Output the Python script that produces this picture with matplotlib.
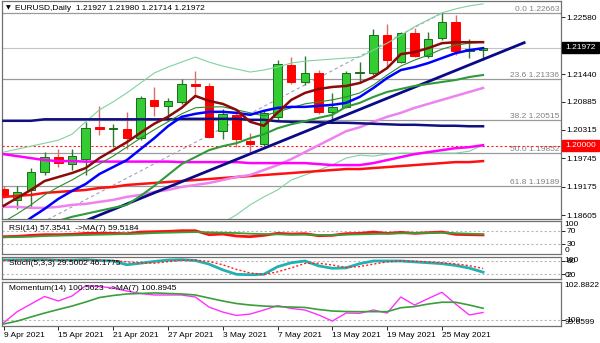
import numpy as np
import matplotlib.pyplot as plt
from matplotlib.patches import Rectangle

plt.rcParams['font.family'] = ['Liberation Sans', 'DejaVu Sans']
plt.rcParams['font.size'] = 6

W, H = 600, 343

# EURUSD daily bars, 9 Apr 2021 .. 28 May 2021
opens = [1.1913, 1.1891, 1.1911, 1.1947, 1.1977, 1.1963, 1.1973, 1.2038, 1.2033, 1.2034,
         1.2015, 1.2092, 1.2080, 1.2088, 1.2124, 1.2120, 1.2030, 1.2062, 1.2009, 1.2003,
         1.2058, 1.2162, 1.2128, 1.2146, 1.2068, 1.2078, 1.2146, 1.2146, 1.2222, 1.2168,
         1.2227, 1.2180, 1.2216, 1.2249, 1.2190, 1.21927]
highs = [1.1919, 1.1919, 1.1955, 1.1987, 1.1993, 1.1993, 1.2048, 1.2080, 1.2044, 1.2068,
         1.2100, 1.2118, 1.2096, 1.2134, 1.2150, 1.2126, 1.2074, 1.2066, 1.2025, 1.2070,
         1.2172, 1.2178, 1.2180, 1.2152, 1.2106, 1.2150, 1.2168, 1.2235, 1.2245, 1.2229,
         1.2237, 1.2229, 1.22663, 1.2263, 1.2214, 1.21980]
lows = [1.1895, 1.1873, 1.1877, 1.1941, 1.1957, 1.1951, 1.1941, 1.2021, 1.1997, 1.1993,
        1.2011, 1.2060, 1.2056, 1.2084, 1.2098, 1.2015, 1.2013, 1.1997, 1.1985, 1.1999,
        1.2052, 1.2124, 1.2122, 1.2064, 1.2054, 1.2076, 1.2126, 1.2142, 1.2158, 1.2166,
        1.2178, 1.2176, 1.2212, 1.2182, 1.2176, 1.21714]
closes = [1.1899, 1.1907, 1.1947, 1.1977, 1.1965, 1.1979, 1.2036, 1.2034, 1.2036, 1.2015,
          1.2096, 1.2080, 1.2090, 1.2124, 1.2119, 1.2017, 1.2064, 1.2013, 1.2003, 1.2066,
          1.2164, 1.2128, 1.2146, 1.2068, 1.2078, 1.2146, 1.2148, 1.2222, 1.2172, 1.2227,
          1.2180, 1.2214, 1.2249, 1.2190, 1.2194, 1.21972]

# moving averages / bands overlaid on price
ma_maroon = [1.1879, 1.1895, 1.1911, 1.1929, 1.1937, 1.1945, 1.1955, 1.1975, 1.1991, 1.2007,
             1.2026, 1.2044, 1.2058, 1.2076, 1.2100, 1.2090, 1.2084, 1.2072, 1.2048, 1.2040,
             1.2066, 1.2092, 1.2106, 1.2114, 1.2118, 1.2120, 1.2126, 1.2138, 1.2156, 1.2184,
             1.2188, 1.2196, 1.2206, 1.2208, 1.2208, 1.2208]
ma_blue = [1.1820, 1.1834, 1.1855, 1.1873, 1.1893, 1.1909, 1.1923, 1.1943, 1.1957, 1.1971,
           1.1993, 1.2015, 1.2039, 1.2058, 1.2064, 1.2068, 1.2068, 1.2066, 1.2062, 1.2070,
           1.2076, 1.2078, 1.2078, 1.2080, 1.2082, 1.2086, 1.2098, 1.2116, 1.2136, 1.2152,
           1.2158, 1.2166, 1.2176, 1.2186, 1.2192, 1.2196]
ma_thin = [1.1847, 1.1863, 1.1881, 1.1901, 1.1917, 1.1931, 1.1947, 1.1963, 1.1979, 1.1997,
           1.2015, 1.2032, 1.2048, 1.2064, 1.2076, 1.2078, 1.2078, 1.2072, 1.2066, 1.2060,
           1.2068, 1.2076, 1.2084, 1.2088, 1.2092, 1.2098, 1.2106, 1.2122, 1.2142, 1.2160,
           1.2172, 1.2182, 1.2194, 1.2202, 1.2206, 1.2208]
bb_mid = [1.1811, 1.1819, 1.1829, 1.1839, 1.1849, 1.1857, 1.1863, 1.1869, 1.1875, 1.1881,
          1.1899, 1.1919, 1.1941, 1.1963, 1.1977, 1.1991, 1.1999, 1.2005, 1.2015, 1.2023,
          1.2035, 1.2043, 1.2049, 1.2056, 1.2062, 1.2078, 1.2086, 1.2098, 1.2108, 1.2114,
          1.2120, 1.2124, 1.2128, 1.2132, 1.2138, 1.2142]
bb_up = [1.1987, 1.1993, 1.1999, 1.2005, 1.2011, 1.2023, 1.2048, 1.2072, 1.2088, 1.2106,
         1.2126, 1.2146, 1.2158, 1.2168, 1.2178, 1.2168, 1.2160, 1.2154, 1.2148, 1.2152,
         1.2158, 1.2166, 1.2170, 1.2172, 1.2174, 1.2176, 1.2178, 1.2192, 1.2206, 1.2222,
         1.2239, 1.2253, 1.2267, 1.2275, 1.2281, 1.2285]
bb_low = [1.1634, 1.1644, 1.1658, 1.1672, 1.1686, 1.1690, 1.1678, 1.1666, 1.1662, 1.1656,
          1.1672, 1.1692, 1.1724, 1.1758, 1.1776, 1.1815, 1.1845, 1.1861, 1.1881, 1.1897,
          1.1911, 1.1931, 1.1941, 1.1951, 1.1961, 1.1975, 1.1981, 1.1979, 1.1983, 1.1985,
          1.1985, 1.1985, 1.1985, 1.1985, 1.1989, 1.2001]
ma_magenta = [1.1983, 1.1979, 1.1975, 1.1971, 1.1969, 1.1969, 1.1968, 1.1968, 1.1968, 1.1968,
              1.1968, 1.1968, 1.1968, 1.1967, 1.1967, 1.1967, 1.1967, 1.1967, 1.1965, 1.1965,
              1.1965, 1.1965, 1.1965, 1.1963, 1.1961, 1.1961, 1.1961, 1.1965, 1.1971, 1.1977,
              1.1983, 1.1987, 1.1991, 1.1995, 1.1997, 1.2001]
ma_violet = [1.1877, 1.1877, 1.1875, 1.1875, 1.1877, 1.1881, 1.1883, 1.1887, 1.1891, 1.1897,
             1.1901, 1.1907, 1.1911, 1.1917, 1.1921, 1.1925, 1.1931, 1.1937, 1.1941, 1.1951,
             1.1961, 1.1973, 1.1987, 1.2001, 1.2015, 1.2029, 1.2037, 1.2048, 1.2058, 1.2066,
             1.2076, 1.2084, 1.2092, 1.2100, 1.2108, 1.2116]
ma_red = [1.1897, 1.1899, 1.1901, 1.1905, 1.1907, 1.1909, 1.1911, 1.1915, 1.1917, 1.1921,
          1.1923, 1.1925, 1.1927, 1.1929, 1.1931, 1.1933, 1.1935, 1.1937, 1.1939, 1.1941,
          1.1943, 1.1945, 1.1947, 1.1949, 1.1951, 1.1953, 1.1953, 1.1955, 1.1957, 1.1959,
          1.1961, 1.1963, 1.1965, 1.1967, 1.1967, 1.1969]
ma_navy = [1.2050, 1.2050, 1.2050, 1.2053, 1.2053, 1.2053, 1.2053, 1.2053, 1.2053, 1.2053,
           1.2053, 1.2053, 1.2053, 1.2054, 1.2054, 1.2054, 1.2054, 1.2054, 1.2052, 1.2052,
           1.2049, 1.2048, 1.2048, 1.2047, 1.2046, 1.2046, 1.2045, 1.2044, 1.2043, 1.2042,
           1.2042, 1.2041, 1.2040, 1.2040, 1.2039, 1.2039]

# oscillators
rsi = [52, 53, 56, 58, 58, 59, 62, 62, 62, 61, 66, 67, 68, 70, 70, 58, 60, 54, 52, 56,
       62, 60, 61, 55, 56, 61, 62, 66, 62, 65, 62, 64, 66, 59, 58, 57.3541]
rsi_ma = [50, 51, 52, 54, 55, 56, 57, 58, 59, 60, 61, 63, 64, 65, 66, 65, 64, 63, 61, 60,
          59, 58, 58, 57, 57, 58, 59, 60, 61, 62, 63, 63, 64, 62.5, 61, 59.5184]
stoch_k = [85, 85, 86, 86, 84, 84, 86, 82, 80, 63, 70, 78, 84, 86, 82, 66, 40, 20, 18, 20,
           54, 72, 80, 58, 47, 49, 68, 80, 80, 80, 76, 72, 68, 60, 48, 29.5002]
stoch_d = [83, 84, 85, 85, 85, 84, 84, 84, 82, 76, 72, 70, 77, 83, 84, 78, 63, 42, 26, 19,
           31, 49, 69, 70, 62, 51, 55, 66, 76, 80, 79, 76, 72, 67, 59, 46.1775]
momentum = [99.75, 100.63, 101.23, 101.82, 101.47, 101.86, 102.67, 102.61, 102.49, 102.25,
            102.06, 101.94, 101.94, 101.94, 101.78, 100.99, 100.60, 100.33, 100.44, 100.76,
            101.10, 100.88, 100.76, 100.37, 99.89, 100.52, 100.50, 100.76, 100.52, 101.78,
            101.15, 101.66, 102.15, 101.23, 100.37, 100.5623]
momentum_ma = [99.6599, 99.89, 100.21, 100.52, 100.80, 101.07, 101.39, 101.74, 101.90, 102.02,
               102.06, 102.10, 102.06, 102.02, 101.94, 101.70, 101.47, 101.27, 101.15, 101.07,
               101.03, 100.99, 100.96, 100.80, 100.68, 100.64, 100.63, 100.63, 100.63, 100.94,
               101.03, 101.23, 101.37, 101.37, 101.15, 100.8945]
# momentum window scale (min, max) shown on its price axis
momentum_scale = [99.6599, 102.8822]

date_ticks = [0, 4, 8, 12, 16, 20, 24, 28, 32]
date_labels = ['9 Apr 2021', '15 Apr 2021', '21 Apr 2021', '27 Apr 2021', '3 May 2021',
               '7 May 2021', '13 May 2021', '19 May 2021', '25 May 2021']
price_ticks = [1.18605, 1.19175, 1.19745, 1.20315, 1.20885, 1.21440, 1.22010, 1.22580]

fib_names = ['0.0', '23.6', '38.2', '50.0', '61.8']
fib_prices = [1.22663, 1.21336, 1.20515, 1.19852, 1.19189]
swing_bars = [-7, 32]
swing_prices = [1.17041, 1.22663]
trend_bars = [-7, 38]
trend_prices = [1.1704, 1.2207]

last_price = 1.21972
alert_price = 1.20000

X_LIM = (-0.11, 40.69)
GREY = '#808080'


def panel(fig, top, bottom):
    """Axes placed by pixel rows, sharing the same horizontal span."""
    ax = fig.add_axes([2 / W, 1 - bottom / H, 559 / W, (bottom - top) / H])
    ax.set_xlim(*X_LIM)
    ax.set_xticks([])
    ax.yaxis.tick_right()
    ax.tick_params(axis='y', length=3, width=0.6, pad=1, labelsize=6)
    for s in ax.spines.values():
        s.set_color('#707070')
        s.set_linewidth(0.9)
    return ax


def corner_labels(ax, top_text, bottom_text):
    tr = ax.transAxes
    ax.text(1.0 + 3.5 / 559, 1.0, top_text, transform=tr, ha='left', va='top',
            fontsize=6, clip_on=False)
    ax.text(1.0 + 3.5 / 559, 0.0, bottom_text, transform=tr, ha='left', va='bottom',
            fontsize=6, clip_on=False)


def price_box(ax, price, text, color):
    tr = ax.get_yaxis_transform()
    half = 5.2 * 0.000201
    ax.add_patch(Rectangle((1.0 + 1 / 559, price - half), 37 / 559, 2 * half,
                           transform=tr, facecolor=color, edgecolor=color,
                           clip_on=False, zorder=10))
    ax.text(1.0 + 4 / 559, price, text, transform=tr, ha='left', va='center',
            color='white', fontsize=6, clip_on=False, zorder=11)


def draw_candles(ax):
    x = np.arange(len(closes))
    o = np.array(opens)
    c = np.array(closes)
    up = c >= o
    for i in x:
        ax.vlines(i, lows[i], highs[i], color='#2a7a2a' if up[i] else '#e06a6a',
                  lw=1.0, zorder=2)
    bottom = np.minimum(o, c)
    height = np.maximum(np.abs(c - o), 0.00004)
    ax.bar(x[up], height[up], bottom=bottom[up], width=0.62, color='#33cc33',
           edgecolor='#1d6b1d', linewidth=0.7, zorder=3)
    ax.bar(x[~up], height[~up], bottom=bottom[~up], width=0.62, color='#ff0000',
           edgecolor='#ff0000', linewidth=0.7, zorder=3)


fig = plt.figure(figsize=(W / 100, H / 100), dpi=100)

# ---- main price window ----
ax = panel(fig, 1, 219)
ax.set_ylim(1.22928 - 0.000201 * 219, 1.22928 - 0.000201 * 1)
ax.set_yticks(price_ticks)
# the level under the bid box carries no label
ax.set_yticklabels(['' if abs(p - last_price) < 0.001 else f'{p:.5f}' for p in price_ticks])

for name, p in zip(fib_names, fib_prices):
    ax.axhline(p, color='#9a9a9a', lw=0.9, zorder=1)
    ax.text(0.9973, p, f'{name} {p:.5f}', transform=ax.get_yaxis_transform(),
            ha='right', va='bottom', color=GREY, fontsize=6, zorder=1)
ax.axhline(last_price, color='#c4c4c4', lw=0.8, zorder=1)
ax.axhline(alert_price, color='#ff2020', lw=0.8, ls=(0, (2, 2)), zorder=1)
ax.plot(swing_bars, swing_prices, color='#a0a0b8', lw=0.8, ls=(0, (3, 2.5)), zorder=1)

draw_candles(ax)

bars = np.arange(len(closes))
ax.plot(bars, bb_up, color='#7fd3a0', lw=0.8, zorder=4)
ax.plot(bars, bb_low, color='#7fd3a0', lw=0.8, zorder=4)
ax.plot(bars, ma_red, color='#ff1010', lw=1.8, zorder=4)
ax.plot(bars, ma_violet, color='#ee82ee', lw=1.8, zorder=4)
ax.plot(bars, ma_magenta, color='#ff00ff', lw=1.8, zorder=4)
ax.plot(bars, ma_navy, color='#101080', lw=1.8, zorder=4)
ax.plot(trend_bars, trend_prices, color='#0a0a88', lw=2.0, zorder=4)
ax.plot(bars, bb_mid, color='#2f9a3a', lw=1.5, zorder=5)
ax.plot(bars, ma_thin, color='#2c8c2c', lw=0.8, zorder=5)
ax.plot(bars, ma_blue, color='#0000ff', lw=1.8, zorder=5)
ax.plot(bars, ma_maroon, color='#8b0a0a', lw=1.8, zorder=5)

price_box(ax, last_price, f'{last_price:.5f}', 'black')
price_box(ax, alert_price, f'{alert_price:.5f}', '#ff0000')

fig.text(6 / W, 1 - 8 / H, '\u25bc', fontsize=4.5, va='center', family=['DejaVu Sans'])
fig.text(15 / W, 1 - 8 / H, 'EURUSD,Daily  1.21927 1.21980 1.21714 1.21972',
         fontsize=6, va='center')

# ---- RSI ----
ax_rsi = panel(fig, 221, 254)
ax_rsi.set_ylim(-0.1, 99.2)
ax_rsi.set_yticks([70, 30])
ax_rsi.set_yticklabels(['70', '30'])
for lvl in (70, 30):
    ax_rsi.axhline(lvl, color='#b8b8b8', lw=0.8, ls=(0, (2, 2)))
ax_rsi.plot(bars, rsi, color='#ff1010', lw=2.0)
ax_rsi.plot(bars, rsi_ma, color='#3a9e3a', lw=1.3)
corner_labels(ax_rsi, '100', '0')
ax_rsi.text(7 / 559, 0.78, f'RSI(14) {rsi[-1]:.4f}  ->MA(7) {rsi_ma[-1]:.4f}',
            transform=ax_rsi.transAxes, fontsize=6, va='center')

# ---- Stochastic ----
ax_st = panel(fig, 257, 279)
ax_st.set_ylim(-1.2, 98.0)
ax_st.set_yticks([80, 20])
ax_st.set_yticklabels(['80', '20'])
for lvl in (80, 20):
    ax_st.axhline(lvl, color='#b8b8b8', lw=0.8, ls=(0, (2, 2)))
ax_st.plot(bars, stoch_k, color='#22b0b0', lw=2.0)
ax_st.plot(bars, stoch_d, color='#ff2020', lw=1.0, ls=(0, (1.5, 1.5)))
corner_labels(ax_st, '100', '0')
ax_st.text(7 / 559, 0.72, f'Stoch(5,3,3) {stoch_k[-1]:.4f} {stoch_d[-1]:.4f}',
           transform=ax_st.transAxes, fontsize=6, va='center')

# ---- Momentum ----
ax_mo = panel(fig, 282, 326)
lo, hi = momentum_scale
px_per_unit = 41 / (hi - lo)
ax_mo.set_ylim(lo - 2 / px_per_unit, hi + 1 / px_per_unit)
ax_mo.set_yticks([100])
ax_mo.set_yticklabels(['100'])
ax_mo.axhline(100, color='#b8b8b8', lw=0.8, ls=(0, (2, 2)))
ax_mo.plot(bars, momentum, color='#ff30ff', lw=1.0)
ax_mo.plot(bars, momentum_ma, color='#3a9e3a', lw=1.2)
corner_labels(ax_mo, f'{hi:.4f}', f'{lo:.4f}')
ax_mo.text(7 / 559, 0.86, f'Momentum(14) {momentum[-1]:.4f}  ->MA(7) {momentum_ma[-1]:.4f}',
           transform=ax_mo.transAxes, fontsize=6, va='center')
ax_mo.set_xticks(date_ticks)
ax_mo.set_xticklabels(date_labels, ha='left')
ax_mo.tick_params(axis='x', length=3, width=0.6, pad=1, labelsize=6)

fig.savefig('out.png', dpi=100)
plt.close(fig)
